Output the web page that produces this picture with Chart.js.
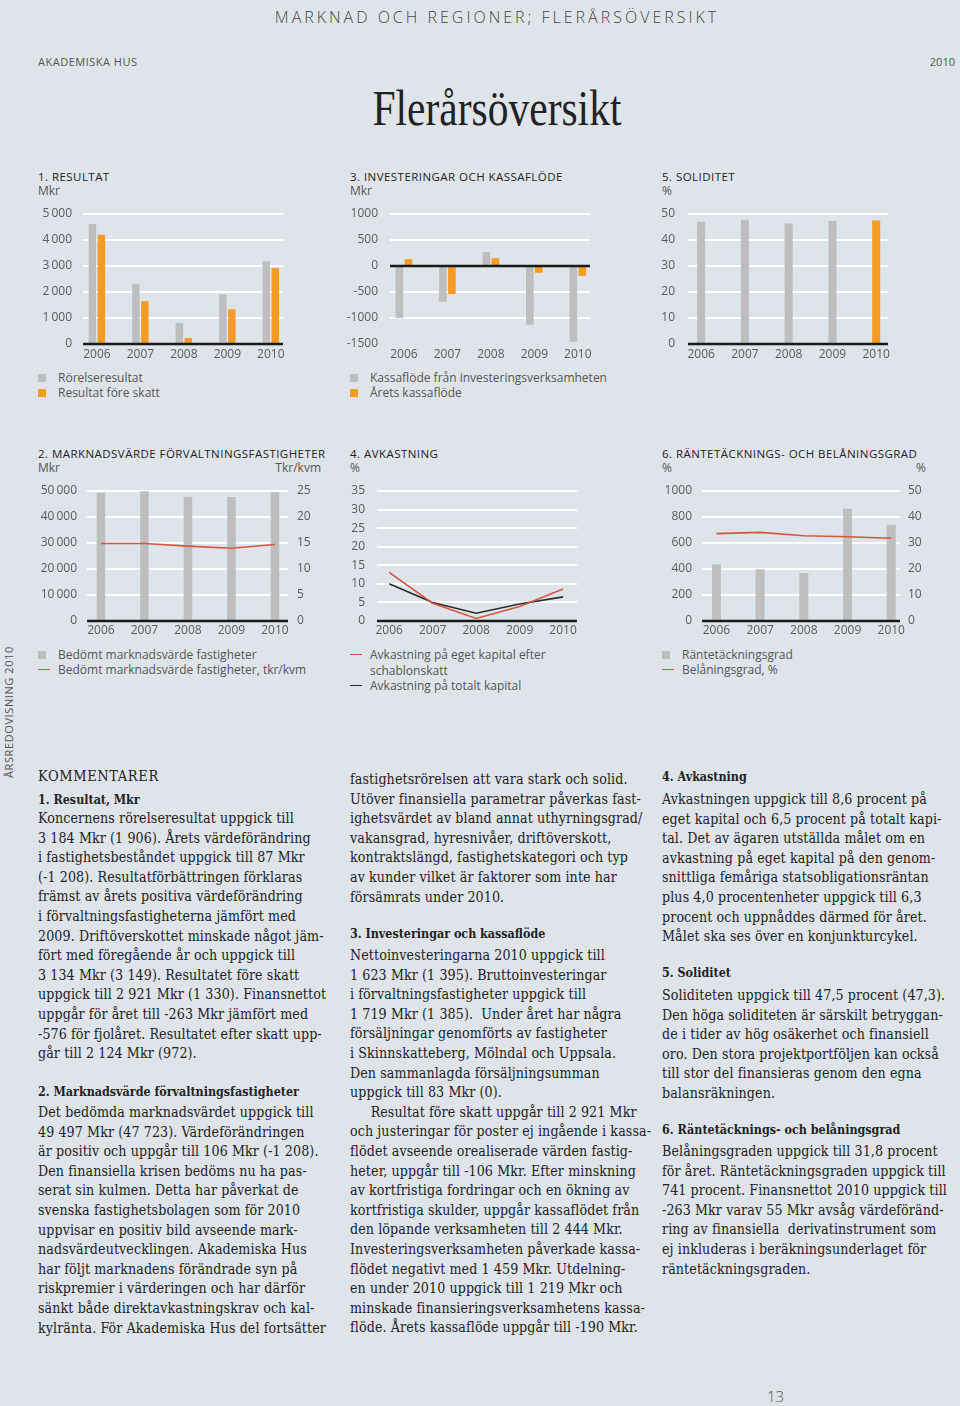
<!DOCTYPE html>
<html lang="sv">
<head>
<meta charset="utf-8">
<title>Flerårsöversikt</title>
<script src="https://cdn.jsdelivr.net/npm/chart.js@4.4.0/dist/chart.umd.min.js"></script>
<style>
  html, body { margin: 0; padding: 0; }
  body { width: 960px; height: 1406px; background: #dfe4ea; position: relative; overflow: hidden;
         font-family: 'Open Sans', sans-serif; color: #333; }
  .abs { position: absolute; white-space: nowrap; }
  canvas { position: absolute; }
  .ctitle { font-size: 11.5px; letter-spacing: 0.45px; color: #222; line-height: 12px; }
  .unit { font-size: 12px; color: #555; line-height: 12px; }
  .leg { font-size: 12px; color: #555; line-height: 15px; }
  .sq { display: inline-block; width: 8px; height: 8px; margin-right: 12px; vertical-align: 0px; }
  .ln { display: inline-block; width: 12px; height: 1.5px; margin-right: 8px; vertical-align: 4px; }
  .txt { font-family: 'DejaVu Serif Condensed', 'DejaVu Serif', serif; font-stretch: condensed;
         font-size: 14.1px; letter-spacing: 0.1px; line-height: 19.6px; color: #222; white-space: pre; }
  .hd { font-family: 'DejaVu Serif Condensed', 'DejaVu Serif', serif; font-stretch: condensed;
        font-weight: bold; font-size: 12.4px; line-height: 20px; color: #222; white-space: pre; }
</style>
</head>
<body>

<div class="abs" style="left:0;width:994px;top:7px;text-align:center;font-size:16px;font-weight:300;letter-spacing:3px;color:#444;line-height:20px;">MARKNAD OCH REGIONER; FLERÅRSÖVERSIKT</div>
<div class="abs" style="left:38px;top:55px;font-size:11px;letter-spacing:0.5px;color:#555;line-height:14px;">AKADEMISKA HUS</div>
<div class="abs" style="right:5px;top:55px;font-size:11px;color:#555;line-height:14px;">2010</div>
<div class="abs" style="left:0;width:994px;top:83px;text-align:center;line-height:50px;">
  <span style="display:inline-block;font-family:'Liberation Serif',serif;font-size:50px;color:#222;transform:scaleX(0.83);">Flerårsöversikt</span>
</div>

<div class="abs" style="left:2px;top:778px;font-size:11px;letter-spacing:0.6px;color:#555;transform:rotate(-90deg);transform-origin:0 0;line-height:14px;">ÅRSREDOVISNING 2010</div>

<!-- titles row 1 -->
<div class="abs ctitle" style="left:38px;top:171px;">1. RESULTAT</div>
<div class="abs unit" style="left:38px;top:185px;">Mkr</div>
<div class="abs ctitle" style="left:350px;top:171px;">3. INVESTERINGAR OCH KASSAFLÖDE</div>
<div class="abs unit" style="left:350px;top:185px;">Mkr</div>
<div class="abs ctitle" style="left:662px;top:171px;">5. SOLIDITET</div>
<div class="abs unit" style="left:662px;top:185px;">%</div>

<!-- titles row 2 -->
<div class="abs ctitle" style="left:38px;top:448px;">2. MARKNADSVÄRDE FÖRVALTNINGSFASTIGHETER</div>
<div class="abs unit" style="left:38px;top:462px;">Mkr</div>
<div class="abs unit" style="right:639px;top:462px;">Tkr/kvm</div>
<div class="abs ctitle" style="left:350px;top:448px;">4. AVKASTNING</div>
<div class="abs unit" style="left:350px;top:462px;">%</div>
<div class="abs ctitle" style="left:662px;top:448px;">6. RÄNTETÄCKNINGS- OCH BELÅNINGSGRAD</div>
<div class="abs unit" style="left:662px;top:462px;">%</div>
<div class="abs unit" style="right:34px;top:462px;">%</div>

<canvas id="resultat" width="263" height="164" style="left:30px;top:204px;"></canvas>
<canvas id="investeringar" width="260" height="164" style="left:340px;top:204px;"></canvas>
<canvas id="soliditet" width="248" height="164" style="left:650px;top:204px;"></canvas>
<canvas id="marknadsvarde" width="298" height="164" style="left:30px;top:481px;"></canvas>
<canvas id="avkastning" width="247" height="164" style="left:340px;top:481px;"></canvas>
<canvas id="rantetackning" width="290" height="164" style="left:650px;top:481px;"></canvas>

<!-- legends -->
<div class="abs leg" style="left:38px;top:370px;"><span class="sq" style="background:#bebebe"></span>Rörelseresultat<br><span class="sq" style="background:#f39b22"></span>Resultat före skatt</div>
<div class="abs leg" style="left:350px;top:370px;"><span class="sq" style="background:#bebebe"></span>Kassaflöde från investeringsverksamheten<br><span class="sq" style="background:#f39b22"></span>Årets kassaflöde</div>
<div class="abs leg" style="left:38px;top:647px;"><span class="sq" style="background:#bebebe"></span>Bedömt marknadsvärde fastigheter<br><span class="ln" style="background:#d5563f"></span>Bedömt marknadsvärde fastigheter, tkr/kvm</div>
<div class="abs leg" style="left:350px;top:647px;line-height:15.5px;"><span class="ln" style="background:#d5563f"></span>Avkastning på eget kapital efter<br><span style="display:inline-block;width:20px"></span>schablonskatt<br><span class="ln" style="background:#2b2b2b"></span>Avkastning på totalt kapital</div>
<div class="abs leg" style="left:662px;top:647px;"><span class="sq" style="background:#bebebe"></span>Räntetäckningsgrad<br><span class="ln" style="background:#d5563f"></span>Belåningsgrad, %</div>

<!-- column 1 -->
<div class="abs txt" style="left:38px;top:767px;font-size:14.5px;letter-spacing:0.6px;">KOMMENTARER</div>
<div class="abs hd" style="left:38px;top:790px;">1. Resultat, Mkr</div>
<div class="abs txt" style="left:38px;top:809px;">Koncernens rörelseresultat uppgick till
3 184 Mkr (1 906). Årets värdeförändring
i fastighetsbeståndet uppgick till 87 Mkr
(-1 208). Resultatförbättringen förklaras
främst av årets positiva värdeförändring
i förvaltningsfastigheterna jämfört med
2009. Driftöverskottet minskade något jäm-
fört med föregående år och uppgick till
3 134 Mkr (3 149). Resultatet före skatt
uppgick till 2 921 Mkr (1 330). Finansnettot
uppgår för året till -263 Mkr jämfört med
-576 för fjolåret. Resultatet efter skatt upp-
går till 2 124 Mkr (972).</div>
<div class="abs hd" style="left:38px;top:1082px;">2. Marknadsvärde förvaltningsfastigheter</div>
<div class="abs txt" style="left:38px;top:1103px;">Det bedömda marknadsvärdet uppgick till
49 497 Mkr (47 723). Värdeförändringen
är positiv och uppgår till 106 Mkr (-1 208).
Den finansiella krisen bedöms nu ha pas-
serat sin kulmen. Detta har påverkat de
svenska fastighetsbolagen som för 2010
uppvisar en positiv bild avseende mark-
nadsvärdeutvecklingen. Akademiska Hus
har följt marknadens förändrade syn på
riskpremier i värderingen och har därför
sänkt både direktavkastningskrav och kal-
kylränta. För Akademiska Hus del fortsätter</div>

<!-- column 2 -->
<div class="abs txt" style="left:350px;top:770px;">fastighetsrörelsen att vara stark och solid.
Utöver finansiella parametrar påverkas fast-
ighetsvärdet av bland annat uthyrningsgrad/
vakansgrad, hyresnivåer, driftöverskott,
kontraktslängd, fastighetskategori och typ
av kunder vilket är faktorer som inte har
försämrats under 2010.</div>
<div class="abs hd" style="left:350px;top:924px;">3. Investeringar och kassaflöde</div>
<div class="abs txt" style="left:350px;top:946px;">Nettoinvesteringarna 2010 uppgick till
1 623 Mkr (1 395). Bruttoinvesteringar
i förvaltningsfastigheter uppgick till
1 719 Mkr (1 385).  Under året har några
försäljningar genomförts av fastigheter
i Skinnskatteberg, Mölndal och Uppsala.
Den sammanlagda försäljningsumman
uppgick till 83 Mkr (0).
     Resultat före skatt uppgår till 2 921 Mkr
och justeringar för poster ej ingående i kassa-
flödet avseende orealiserade värden fastig-
heter, uppgår till -106 Mkr. Efter minskning
av kortfristiga fordringar och en ökning av
kortfristiga skulder, uppgår kassaflödet från
den löpande verksamheten till 2 444 Mkr.
Investeringsverksamheten påverkade kassa-
flödet negativt med 1 459 Mkr. Utdelning-
en under 2010 uppgick till 1 219 Mkr och
minskade finansieringsverksamhetens kassa-
flöde. Årets kassaflöde uppgår till -190 Mkr.</div>

<!-- column 3 -->
<div class="abs hd" style="left:662px;top:767px;">4. Avkastning</div>
<div class="abs txt" style="left:662px;top:790px;">Avkastningen uppgick till 8,6 procent på
eget kapital och 6,5 procent på totalt kapi-
tal. Det av ägaren utställda målet om en
avkastning på eget kapital på den genom-
snittliga femåriga statsobligationsräntan
plus 4,0 procentenheter uppgick till 6,3
procent och uppnåddes därmed för året.
Målet ska ses över en konjunkturcykel.</div>
<div class="abs hd" style="left:662px;top:963px;">5. Soliditet</div>
<div class="abs txt" style="left:662px;top:986px;">Soliditeten uppgick till 47,5 procent (47,3).
Den höga soliditeten är särskilt betryggan-
de i tider av hög osäkerhet och finansiell
oro. Den stora projektportföljen kan också
till stor del finansieras genom den egna
balansräkningen.</div>
<div class="abs hd" style="left:662px;top:1120px;">6. Räntetäcknings- och belåningsgrad</div>
<div class="abs txt" style="left:662px;top:1142px;">Belåningsgraden uppgick till 31,8 procent
för året. Räntetäckningsgraden uppgick till
741 procent. Finansnettot 2010 uppgick till
-263 Mkr varav 55 Mkr avsåg värdeföränd-
ring av finansiella  derivatinstrument som
ej inkluderas i beräkningsunderlaget för
räntetäckningsgraden.</div>

<div class="abs" style="left:767px;top:1387px;font-size:15px;font-weight:300;color:#555;line-height:18px;">13</div>

<script>
// data
var years = ['2006', '2007', '2008', '2009', '2010'];
var rorelseresultat = [4620, 2300, 810, 1906, 3184];
var resultatForeSkatt = [4200, 1650, 230, 1330, 2921];
var kassaflodeInvestering = [-1000, -690, 270, -1130, -1459];
var aretsKassaflode = [130, -540, 150, -130, -190];
var soliditet = [47.0, 47.8, 46.3, 47.3, 47.5];
var marknadsvarde = [49300, 49900, 47800, 47723, 49497];
var marknadsvardeKvm = [14.9, 14.9, 14.4, 14.0, 14.7];
var avkastningEget = [13.1, 4.8, 0.7, 3.9, 8.6];
var avkastningTotalt = [10.0, 5.0, 2.1, 4.6, 6.5];
var rantetackning = [436, 397, 369, 864, 741];
var belaningsgrad = [33.6, 34.1, 32.8, 32.4, 31.8];

var GRAY = '#bebebe';
var ORANGE = '#f39b22';
var RED = '#d5563f';
var DARK = '#2b2b2b';

Chart.defaults.font.family = "'Open Sans', sans-serif";
Chart.defaults.font.size = 12;
Chart.defaults.color = '#5a5a5a';
Chart.defaults.animation = false;
Chart.defaults.responsive = false;
Chart.defaults.devicePixelRatio = 1;
Chart.defaults.plugins.legend.display = false;
Chart.defaults.plugins.tooltip.enabled = false;

function points(values) {
    return values.map(function (v, i) { return { x: i, y: v }; });
}

function thousands(v) {
    return v === 0 ? '0' : (v / 1000) + '\u2009000';
}

// black zero line drawn over the bars
var zeroLine = {
    id: 'zeroLine',
    afterDatasetsDraw: function (chart) {
        var y = chart.scales.y.getPixelForValue(0);
        var a = chart.chartArea;
        var c = chart.ctx;
        c.save();
        c.strokeStyle = '#1a1a1a';
        c.lineWidth = 2.5;
        c.beginPath();
        c.moveTo(a.left, y);
        c.lineTo(a.right, y);
        c.stroke();
        c.restore();
    }
};

function xAxis(min, max, pad) {
    return {
        type: 'linear', min: min, max: max, offset: false,
        afterBuildTicks: function (s) { s.ticks = years.map(function (y, i) { return { value: i }; }); },
        afterFit: function (s) { s.height = 24; s.paddingLeft = 0; s.paddingRight = 0; },
        grid: { display: false, drawTicks: false },
        border: { display: false },
        ticks: { padding: pad, maxRotation: 0, autoSkip: false, callback: function (v) { return years[v]; } }
    };
}

function yAxis(min, max, step, width, pad, fmt) {
    return {
        min: min, max: max,
        afterFit: function (s) { s.width = width; s.paddingTop = 0; s.paddingBottom = 0; },
        grid: {
            drawTicks: false, lineWidth: 2,
            color: function (c) { return (c.tick.value === 0 || c.tick.value === min) ? 'rgba(0,0,0,0)' : '#ffffff'; }
        },
        border: { display: false },
        ticks: { stepSize: step, padding: pad, autoSkip: false, callback: fmt || function (v) { return v; } }
    };
}

function rightAxis(min, max, step, width, pad) {
    return {
        position: 'right', min: min, max: max,
        afterFit: function (s) { s.width = width; s.paddingTop = 0; s.paddingBottom = 0; },
        grid: { display: false, drawTicks: false },
        border: { display: false },
        ticks: { stepSize: step, padding: pad, autoSkip: false }
    };
}

// 1. Resultat
new Chart(document.getElementById('resultat'), {
    type: 'bar',
    data: {
        datasets: [
            { label: 'Rörelseresultat', data: points(rorelseresultat), backgroundColor: GRAY },
            { label: 'Resultat före skatt', data: points(resultatForeSkatt), backgroundColor: ORANGE }
        ]
    },
    options: {
        layout: { padding: { top: 10, right: 10, left: 0, bottom: 0 } },
        datasets: { bar: { categoryPercentage: 0.414, barPercentage: 0.83 } },
        scales: { x: xAxis(-0.32, 4.28, 3), y: yAxis(0, 5000, 1000, 53, 11, thousands) }
    },
    plugins: [zeroLine]
});

// 3. Investeringar och kassaflöde
new Chart(document.getElementById('investeringar'), {
    type: 'bar',
    data: {
        datasets: [
            { label: 'Kassaflöde från investeringsverksamheten', data: points(kassaflodeInvestering), backgroundColor: GRAY },
            { label: 'Årets kassaflöde', data: points(aretsKassaflode), backgroundColor: ORANGE }
        ]
    },
    options: {
        layout: { padding: { top: 10, right: 10, left: 0, bottom: 0 } },
        datasets: { bar: { categoryPercentage: 0.414, barPercentage: 0.85 } },
        scales: { x: xAxis(-0.32, 4.28, 3), y: yAxis(-1500, 1000, 500, 50, 12) }
    },
    plugins: [zeroLine]
});

// 5. Soliditet
new Chart(document.getElementById('soliditet'), {
    type: 'bar',
    data: {
        datasets: [
            { label: 'Soliditet', data: points(soliditet), backgroundColor: [GRAY, GRAY, GRAY, GRAY, ORANGE] }
        ]
    },
    options: {
        layout: { padding: { top: 10, right: 10, left: 0, bottom: 0 } },
        datasets: { bar: { categoryPercentage: 0.2, barPercentage: 0.92 } },
        scales: { x: xAxis(-0.30, 4.27, 3), y: yAxis(0, 50, 10, 38, 13) }
    },
    plugins: [zeroLine]
});

// 2. Marknadsvärde förvaltningsfastigheter
new Chart(document.getElementById('marknadsvarde'), {
    type: 'bar',
    data: {
        datasets: [
            { type: 'line', label: 'Bedömt marknadsvärde fastigheter, tkr/kvm', data: points(marknadsvardeKvm), yAxisID: 'y1',
              borderColor: RED, borderWidth: 1.6, pointRadius: 0, tension: 0, order: 0 },
            { label: 'Bedömt marknadsvärde fastigheter', data: points(marknadsvarde), backgroundColor: GRAY, order: 1 }
        ]
    },
    options: {
        layout: { padding: { top: 10, right: 0, left: 0, bottom: 0 } },
        datasets: { bar: { categoryPercentage: 0.2, barPercentage: 0.98 } },
        scales: { x: xAxis(-0.32, 4.30, 2), y: yAxis(0, 50000, 10000, 57, 10, thousands), y1: rightAxis(0, 25, 5, 40, 9) }
    },
    plugins: [zeroLine]
});

// 4. Avkastning
new Chart(document.getElementById('avkastning'), {
    type: 'line',
    data: {
        datasets: [
            { label: 'Avkastning på eget kapital efter schablonskatt', data: points(avkastningEget),
              borderColor: RED, borderWidth: 1.6, pointRadius: 0, tension: 0 },
            { label: 'Avkastning på totalt kapital', data: points(avkastningTotalt),
              borderColor: DARK, borderWidth: 1.6, pointRadius: 0, tension: 0 }
        ]
    },
    options: {
        layout: { padding: { top: 10, right: 10, left: 0, bottom: 0 } },
        scales: { x: xAxis(-0.28, 4.32, 2), y: yAxis(0, 35, 5, 37, 12) }
    },
    plugins: [zeroLine]
});

// 6. Räntetäcknings- och belåningsgrad
new Chart(document.getElementById('rantetackning'), {
    type: 'bar',
    data: {
        datasets: [
            { type: 'line', label: 'Belåningsgrad, %', data: points(belaningsgrad), yAxisID: 'y1',
              borderColor: RED, borderWidth: 1.6, pointRadius: 0, tension: 0, order: 0 },
            { label: 'Räntetäckningsgrad', data: points(rantetackning), backgroundColor: GRAY, order: 1 }
        ]
    },
    options: {
        layout: { padding: { top: 10, right: 0, left: 0, bottom: 0 } },
        datasets: { bar: { categoryPercentage: 0.21, barPercentage: 0.98 } },
        scales: { x: xAxis(-0.33, 4.20, 2), y: yAxis(0, 1000, 200, 52, 10), y1: rightAxis(0, 50, 10, 40, 8) }
    },
    plugins: [zeroLine]
});
</script>
</body>
</html>
